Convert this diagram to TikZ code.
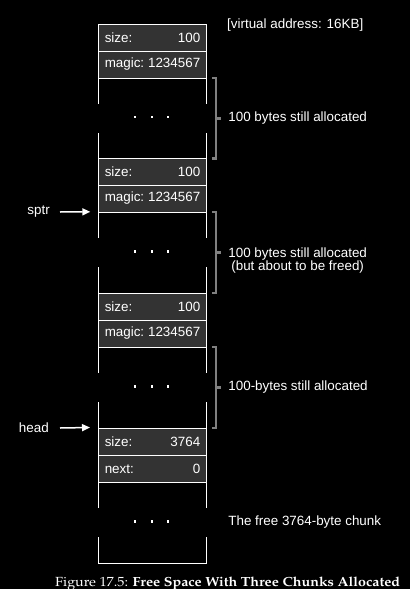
\documentclass[tikz,border=0pt]{standalone}
\usepackage{fontspec}
\setmainfont{Liberation Sans}
\usepackage[T1,TU]{fontenc}
\usetikzlibrary{arrows.meta}
\newcommand\palfont{\fontencoding{T1}\fontfamily{ppl}\selectfont}
\definecolor{rowgray}{HTML}{333333}
\definecolor{brkgray}{HTML}{808080}
\begin{document}
\begin{tikzpicture}[x=1pt,y=-1pt,
  txt/.style={text=white,inner sep=0pt,font=\fontsize{13.4}{13}\selectfont},
  row/.style={txt,draw=white,line width=1pt,fill=rowgray,minimum width=108pt,minimum height=27pt},
  body/.style={inner sep=0pt,minimum width=108pt,draw=none},
  edge/.style={draw=white,line width=1pt},
  brk/.style={draw=brkgray,line width=2.5pt,line join=miter},
  ptr/.style={draw=white,line width=1.5pt,-{Triangle[length=8pt,width=7pt]}}]
\fill[black] (0,0) rectangle (410,589);
\useasboundingbox (0,0) rectangle (410,589);

\node[txt,anchor=west] (va) at (227,25.5) {[virtual address: 16KB]};

% block 1
\node[row] (s1) at (152.5,37.5) {\hbox to 95.5pt{size:\hfill 100}};
\node[row] (m1) at (152.5,64.5) {\hbox to 95.5pt{magic:\hfill 1234567}};
\node[body,minimum height=80.5pt] (b1) at (152.5,118.25) {};
% block 2
\node[row] (s2) at (152.5,171.75) {\hbox to 95.5pt{size:\hfill 100}};
\node[row] (m2) at (152.5,198.5) {\hbox to 95.5pt{magic:\hfill 1234567}};
\node[body,minimum height=81pt] (b2) at (152.5,252.5) {};
% block 3
\node[row] (s3) at (152.5,306.5) {\hbox to 95.5pt{size:\hfill 100}};
\node[row] (m3) at (152.5,333.5) {\hbox to 95.5pt{magic:\hfill 1234567}};
\node[body,minimum height=81pt] (b3) at (152.5,387.5) {};
% block 4 (free)
\node[row] (s4) at (152.5,441.5) {\hbox to 95.5pt{size:\hfill 3764}};
\node[row] (n4) at (152.5,468.5) {\hbox to 95.5pt{next:\hfill 0}};
\node[body,minimum height=81pt] (b4) at (152.5,522.5) {};
\draw[edge] (b4.south west) -- (b4.south east);

\foreach \b in {b1,b2,b3,b4}{
  \draw[edge] (\b.north west) -- ++(0,26);
  \draw[edge] (\b.north east) -- ++(0,26);
  \draw[edge] (\b.south west) -- ++(0,-26);
  \draw[edge] (\b.south east) -- ++(0,-26);
  \foreach \dx in {-17.5,-0.5,15.5}
    \fill[white] ([xshift=\dx pt,yshift=1.2pt]\b.center) ++(-1.35,-1.35) rectangle ++(2.7,2.7);
}

\foreach \b in {b1,b2,b3}{
  \draw[brk] ([xshift=5.5pt]\b.north east) -- ++(4,0) -- ([xshift=9.5pt]\b.south east) -- ++(-4,0);
  \draw[brk] ([xshift=9.5pt]\b.east) -- ++(5,0);
}

\node[txt,anchor=west] (l1) at ([xshift=21.5pt]b1.east) {100 bytes still allocated};
\node[txt,anchor=west,align=center] (l2) at ([xshift=21.5pt,yshift=-8.5pt]b2.east) {100 bytes still allocated\\(but about to be freed)};
\node[txt,anchor=west] (l3) at ([xshift=21.5pt]b3.east) {100-bytes still allocated};
\node[txt,anchor=west] (l4) at ([xshift=21.5pt,yshift=0.8pt]b4.east) {The free 3764-byte chunk};

\node[txt,anchor=east] (sptr) at (50,212) {sptr};
\draw[ptr] ([xshift=10pt]sptr.east) -- ([xshift=-8pt]b2.north west);
\node[txt,anchor=east] (head) at (49,428) {head};
\draw[ptr] ([xshift=11pt]head.east) -- ([xshift=-8pt]s4.north west);

\node[text=white,inner sep=0pt,anchor=base west,font=\palfont\fontsize{13.2}{14}\selectfont] (cap) at (55,586.7) {\resizebox{345pt}{\height}{Figure 17.5: \textbf{Free Space With Three Chunks Allocated}}};
\end{tikzpicture}
\end{document}
